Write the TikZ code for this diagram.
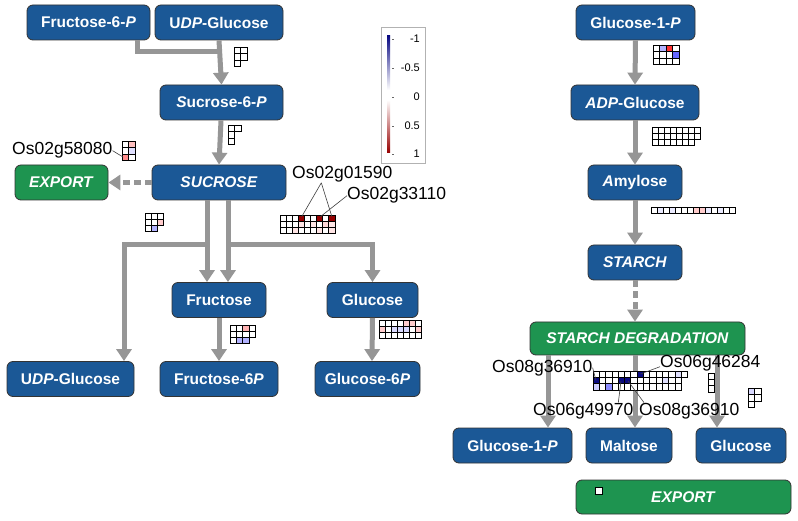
\documentclass[tikz,border=0pt]{standalone}
\usepackage{fontspec}
\setmainfont{Liberation Sans}
\usetikzlibrary{arrows.meta}
\definecolor{pblue}{RGB}{27,88,150}
\definecolor{pgreen}{RGB}{30,148,80}
\definecolor{agray}{RGB}{150,150,150}
\definecolor{navy}{RGB}{10,10,130}
\definecolor{dred}{RGB}{150,0,0}
\colorlet{w}{white}
\newcommand\heat[4]{%
  \foreach \hr [count=\hj from 0] in {#4} {%
    \foreach \hc [count=\hi from 0] in \hr {%
      \draw[hmcell, fill=\hc] ({#1+\hi*#3},{#2+\hj*#3}) rectangle ++(#3,#3);}}}
\tikzset{
  box/.style={draw=black!80, line width=0.8pt, fill=pblue, rounded corners=6pt,
    text=white, font=\fontsize{15.5}{18}\selectfont\bfseries, minimum height=35pt, inner sep=2pt},
  gbox/.style={box, fill=pgreen},
  arr/.style={draw=agray, line width=5pt, line join=miter, -{Triangle[width=15pt,length=12pt]}},
  darr/.style={arr, dash pattern=on 7pt off 4pt},
  pline/.style={draw=agray, line width=5pt, line join=miter},
  hmcell/.style={draw=black, line width=0.8pt},
  gene/.style={font=\fontsize{17.5}{20}\selectfont, inner sep=0pt, anchor=base west},
  gline/.style={draw=black!75, line width=0.6pt},
  leg/.style={font=\fontsize{11}{12}\selectfont, anchor=east, inner sep=0pt}
}
\begin{document}
\begin{tikzpicture}[x=1pt,y=-1pt]
\fill[white] (0,0) rectangle (798,521);
\useasboundingbox (0,0) rectangle (798,521);

% ---------- left pathway nodes
\node[box, minimum width=123pt] (f6p) at (88.5,22.5) {Fructose-6-\textit{P}};
\node[box, minimum width=128pt] (udp1) at (219,22.5) {U\textit{DP}-Glucose};
\node[box, minimum width=123pt] (s6p) at (221.5,102.5) {\textit{S}ucrose-6-\textit{P}};
\node[box, minimum width=134pt] (suc) at (219,182.5) {\textit{SUCROSE}};
\node[gbox, minimum width=93pt] (exp1) at (61.5,182.5) {\textit{EXPORT}};
\node[box, minimum width=94pt] (fru) at (219,300) {Fructose};
\node[box, minimum width=91pt] (glu) at (372.5,300) {Glucose};
\node[box, minimum width=127pt] (udp2) at (70.5,379) {U\textit{DP}-Glucose};
\node[box, minimum width=118pt] (f6p2) at (219,379) {Fructose-6\textit{P}};
\node[box, minimum width=105pt] (g6p) at (367.5,379) {Glucose-6\textit{P}};

% ---------- right pathway nodes
\node[box, minimum width=119pt] (g1p) at (635.5,22.5) {Glucose-1-\textit{P}};
\node[box, minimum width=128pt] (adp) at (635,102.5) {\textit{ADP}-Glucose};
\node[box, minimum width=94pt] (amy) at (635,182.5) {\textit{A}mylose};
\node[box, minimum width=94pt] (sta) at (635,262.5) {\textit{STARCH}};
\node[gbox, minimum width=215pt, minimum height=33pt] (deg) at (637.5,338.5) {\textit{STARCH DEGRADATION}};
\node[box, minimum width=119pt] (g1p2) at (512.5,445.5) {Glucose-1-\textit{P}};
\node[box, minimum width=86pt] (mal) at (629,445.5) {Maltose};
\node[box, minimum width=90pt] (glu2) at (741,445.5) {Glucose};
\node[gbox, minimum width=215pt, minimum height=34pt] (exp2) at (683.5,497) {\textit{EXPORT}};

% ---------- left connectors
\coordinate (j0) at (219,52);
\coordinate (jl) at (207,245);
\coordinate (jr) at (228,245);
\draw[pline] ([xshift=49pt]f6p.south) |- (j0);
\draw[arr] (udp1.south) -- (s6p.north);
\draw[arr] ([xshift=-0.5pt]s6p.south) -- (suc.north);
\draw[darr] (suc.west) -- (exp1.east);
\draw[arr] ([xshift=-12pt]suc.south) -- ([xshift=-12pt]fru.north);
\draw[arr] ([xshift=9pt]suc.south) -- ([xshift=9pt]fru.north);
\draw[arr] (jl) -| ([xshift=53.5pt]udp2.north);
\draw[arr] (jr) -| (glu.north);
\draw[arr] (fru.south) -- (f6p2.north);
\draw[arr] (glu.south) -- ([xshift=4.5pt]g6p.north);

% ---------- right connectors
\draw[arr] (g1p.south) -- (adp.north);
\draw[arr] (adp.south) -- (amy.north);
\draw[arr] (amy.south) -- (sta.north);
\draw[darr] (sta.south) -- ([xshift=-2.5pt]deg.north);
\draw[arr] ([xshift=-89.5pt]deg.south) -- ([xshift=35.5pt]g1p2.north);
\draw[arr] ([xshift=-2.5pt]deg.south) -- ([xshift=6pt]mal.north);
\draw[arr] ([xshift=79.5pt]deg.south) -- ([xshift=-24pt]glu2.north);

% ---------- heat maps
\heat{234}{47}{6.5}{{w,w},{w,w},{w}}
\heat{228}{125}{6.5}{{w,w},{w},{w}}
\heat{122}{141}{6.5}{{w,red!25},{w,blue!12},{red!45,w}}
\heat{145}{213}{6.2}{{w,w,w},{w,w,red!20},{w,blue!30}}
\heat{280}{215}{6.1}{{w,w,w,dred,w,w,dred,w,dred},{w,w,w,red!10,w,red!10,w,red!15,red!10},{w,w,red!10,w,w,w,red!10,w,red!10}}
\heat{230}{325}{6.3}{{w,w,red!30,w},{w,w,w,w},{w,blue!30,blue!30}}
\heat{379}{320}{6.1}{{w,w,w,w,red!20,red!20,w},{red!20,w,blue!15,blue!15,blue!15,w,red!20},{w,w,w,w,w,w,w}}
\heat{653}{45}{6.5}{{w,blue!30,red!80,w},{w,w,w,blue!60},{w,w,w,w}}
\heat{652}{127}{6.1}{{w,w,w,w,w,w,w,w},{w,w,w,w,w,w,w,w},{w,w,w,w,w,w,w}}
\heat{651}{207}{6}{{w,blue!8,w,blue!8,w,w,w,red!20,red!20,blue!8,w,blue!8,w,w}}
\heat{593}{371}{6.3}{{w,w,w,w,w,w,w,navy,w,w,w,w,w,blue!12,w},{navy,w,w,w,navy,navy,w,w,w,w,w,blue!12,w,w},{blue!20,w,blue!45,w,w,w,w,w,w,w,w,w,w,w}}
\heat{708}{373}{6.3}{{w},{w},{w}}
\heat{748}{388}{6.5}{{blue!15,w},{w,w},{w}}
\heat{595}{487}{7}{{w}}

% ---------- gene labels
\node[gene] (l3) at (12,155) {Os02g58080};
\node[gene] (l1) at (292,179) {Os02g01590};
\node[gene] (l2) at (347,200) {Os02g33110};
\node[gene] (l4) at (492,372) {Os08g36910};
\node[gene] (l5) at (660,367) {Os06g46284};
\node[gene] (l6) at (533,415) {Os06g49970};
\node[gene] (l7) at (639,415) {Os08g36910};

\coordinate (c3) at (123,157);
\coordinate (c1a) at (301.5,217);
\coordinate (c1b) at (332,217);
\coordinate (c2) at (320,217);
\coordinate (c4) at (596,380.5);
\coordinate (c5) at (640.5,374);
\coordinate (c6) at (621,381);
\coordinate (c7) at (628,381);
\draw[gline] (l3.east) -- (c3);
\draw[gline] ([xshift=-21pt]l1.south) -- (c1a);
\draw[gline] ([xshift=-21pt]l1.south) -- (c1b);
\draw[gline] (l2.west) -- (c2);
\draw[gline] (l4.east) -- (c4);
\draw[gline] ([yshift=-4pt]l5.west) -- (c5);
\draw[gline] ([xshift=35pt]l6.north) -- (c6);
\draw[gline] ([xshift=5pt]l7.north west) -- (c7);

% ---------- legend
\node[draw=black!30, line width=0.8pt, minimum width=44pt, minimum height=136pt, inner sep=0pt] (legbox) at (403,95) {};
\shade[top color=navy, bottom color=white] (387,36) rectangle (390,90);
\shade[top color=white, bottom color=dred] (387,100) rectangle (390,153);
\foreach \ty/\tl in {39/-1, 68/-0.5, 97/0, 126/0.5, 154/1} {
  \draw[black!60, line width=0.6pt] (392,\ty) -- (394,\ty);
  \node[leg] at (420,\ty) {\tl};
}
\end{tikzpicture}
\end{document}
